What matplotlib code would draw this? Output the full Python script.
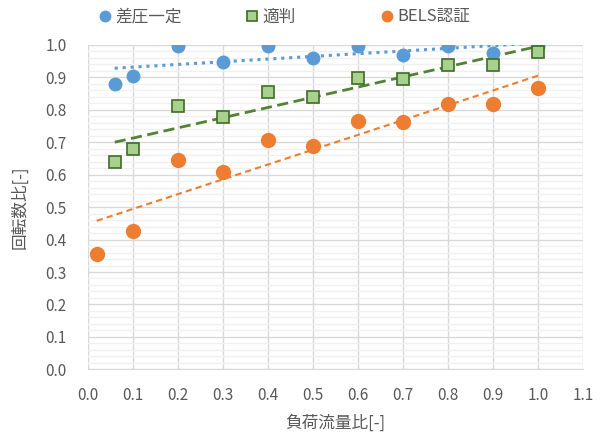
import numpy as np
import matplotlib
matplotlib.use("Agg")
import matplotlib.pyplot as plt
from matplotlib.ticker import MultipleLocator, FormatStrFormatter
from matplotlib.lines import Line2D

plt.rcParams['font.family'] = ['Noto Sans CJK JP', 'DejaVu Sans']

x_blue = [0.06, 0.1, 0.2, 0.3, 0.4, 0.5, 0.6, 0.7, 0.8, 0.9, 1.0]
y_blue = [0.879, 0.904, 0.997, 0.947, 0.997, 0.960, 0.997, 0.969, 0.997, 0.975, 0.997]
x_green = [0.06, 0.1, 0.2, 0.3, 0.4, 0.5, 0.6, 0.7, 0.8, 0.9, 1.0]
y_green = [0.638, 0.678, 0.811, 0.777, 0.854, 0.839, 0.898, 0.895, 0.938, 0.939, 0.978]
x_orange = [0.02, 0.1, 0.2, 0.3, 0.4, 0.5, 0.6, 0.7, 0.8, 0.9, 1.0]
y_orange = [0.356, 0.427, 0.644, 0.607, 0.706, 0.690, 0.765, 0.762, 0.817, 0.817, 0.867]

labels = ['差圧一定', '適判', 'BELS認証']
x_label = '負荷流量比[-]'
y_label = '回転数比[-]'

blue = '#5B9BD5'
orange = '#ED7D31'
gfill = '#A9D18E'
gedge = '#3F6B27'
gline = '#548235'
txt = '#595959'

fig = plt.figure(figsize=(6.01, 4.36), dpi=100)
ax = fig.add_axes([0.1459, 0.153, 0.8247, 0.7438])

ax.set_xlim(0, 1.1)
ax.set_ylim(0, 1.0)
ax.xaxis.set_major_locator(MultipleLocator(0.1))
ax.yaxis.set_major_locator(MultipleLocator(0.1))
ax.yaxis.set_minor_locator(MultipleLocator(0.02))
ax.grid(True, which='major', color='#D9D9D9', lw=1.0, zorder=0)
ax.grid(True, which='minor', axis='y', color='#F0F0F0', lw=1.0, zorder=0)
ax.set_axisbelow(True)
for s in ax.spines.values():
    s.set_visible(False)
ax.spines['bottom'].set_visible(True)
ax.spines['bottom'].set_color('#D9D9D9')
ax.tick_params(which='both', length=0, labelsize=11, colors=txt)
ax.tick_params(axis='x', pad=13)
ax.tick_params(axis='y', pad=15)
ax.xaxis.set_major_formatter(FormatStrFormatter('%.1f'))
ax.yaxis.set_major_formatter(FormatStrFormatter('%.1f'))

def trend(xs, ys, color, ls, lw):
    p = np.polyfit(xs, ys, 1)
    xx = np.array([min(xs), max(xs)])
    ax.plot(xx, np.polyval(p, xx), color=color, ls=ls, lw=lw, zorder=2)

trend(x_blue, y_blue, blue, (0, (1, 1.6)), 2.2)
trend(x_green, y_green, gline, (0, (4, 2)), 2.0)
trend(x_orange, y_orange, orange, (0, (3, 2)), 1.5)

ax.plot(x_blue, y_blue, 'o', color=blue, ms=9, mec=blue, zorder=3)
ax.plot(x_green, y_green, 's', color=gfill, ms=8.5, mec=gedge, mew=1.2, zorder=3)
ax.plot(x_orange, y_orange, 'o', color=orange, ms=10, mec=orange, zorder=3)

ax.set_xlabel(x_label, fontsize=12, color=txt, labelpad=7)
ax.set_ylabel(y_label, fontsize=12, color=txt, labelpad=12)

handles = [
    Line2D([], [], ls='none', marker='o', color=blue, mec=blue, ms=7.5),
    Line2D([], [], ls='none', marker='s', color=gfill, mec=gedge, mew=1.2, ms=7),
    Line2D([], [], ls='none', marker='o', color=orange, mec=orange, ms=7.5),
]
xpos = [97, 244, 379]
for h, lab, xp in zip(handles, labels, xpos):
    lg = fig.legend([h], [lab], loc='center left', bbox_to_anchor=(xp / 601, 1 - 17 / 436),
                    frameon=False, fontsize=12, handletextpad=0.1, handlelength=1.0,
                    borderpad=0, borderaxespad=0)
    for t in lg.get_texts():
        t.set_color(txt)

fig.savefig('out.png', dpi=100)
